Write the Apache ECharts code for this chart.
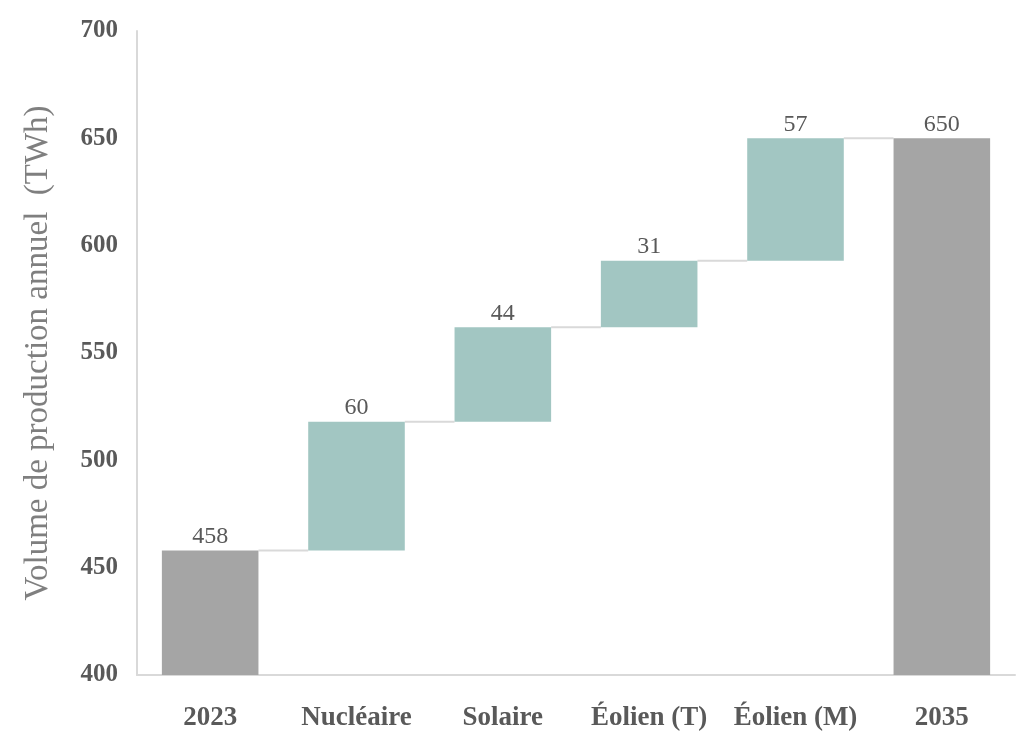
<!DOCTYPE html>
<html><head><meta charset="utf-8">
<script src="https://cdn.jsdelivr.net/npm/echarts@6/dist/echarts.min.js"></script>
<style>html,body{margin:0;padding:0;background:#fff}#c{width:1024px;height:744px}</style>
</head><body><div id="c"></div>
<script>
const categories = ['2023', 'Nucléaire', 'Solaire', 'Éolien (T)', 'Éolien (M)', '2035'];
const totals = [458, null, null, null, null, 650];
const increments = [null, 60, 44, 31, 57, null];
const yTicks = { min: 400, max: 700, interval: 50 };
const yName = 'Volume de production annuel  (TWh)';

// derived waterfall bases and levels
const base = [], visible = [], levels = [];
let run = 0;
categories.forEach((c, i) => {
  if (totals[i] != null) { base.push(0); visible.push({ value: totals[i], itemStyle: { color: '#a5a5a5' } }); run = totals[i]; }
  else { base.push(run); visible.push({ value: increments[i], itemStyle: { color: '#a2c6c2' } }); run += increments[i]; }
  levels.push(run);
});
const labelsText = categories.map((c, i) => totals[i] != null ? totals[i] : increments[i]);
const connectors = levels.slice(0, -1).map((v, i) => [i, v]);
const BW = 0.66;
const font = '"Liberation Serif", "DejaVu Serif", serif';

const chart = echarts.init(document.getElementById('c'));
chart.setOption({
  animation: false,
  grid: { left: 137, right: 9, top: 31, bottom: 69, containLabel: false },
  xAxis: {
    type: 'category', data: categories,
    axisLine: { lineStyle: { color: '#d9d9d9', width: 2 } },
    axisTick: { show: false },
    axisLabel: { interval: 0, hideOverlap: false, margin: 30, color: '#595959', fontFamily: font, fontWeight: 'bold', fontSize: 27 }
  },
  yAxis: {
    type: 'value', min: yTicks.min, max: yTicks.max, interval: yTicks.interval,
    name: yName, nameLocation: 'middle', nameGap: 82, nameRotate: 90,
    nameTextStyle: { color: '#7f7f7f', fontFamily: font, fontSize: 33 },
    axisLine: { show: true, lineStyle: { color: '#d9d9d9', width: 2 } },
    axisTick: { show: false },
    splitLine: { show: false },
    axisLabel: { margin: 19, color: '#595959', fontFamily: font, fontWeight: 'bold', fontSize: 25 }
  },
  series: [
    { type: 'bar', stack: 'w', data: base, barWidth: (BW * 100) + '%', itemStyle: { color: 'transparent' }, silent: true },
    { type: 'bar', stack: 'w', data: visible, barWidth: (BW * 100) + '%',
      label: { show: true, position: 'top', distance: 2, color: '#595959', fontFamily: font, fontSize: 24,
        formatter: p => labelsText[p.dataIndex] } },
    { type: 'custom', data: connectors, z: 1,
      renderItem: (params, api) => {
        const i = api.value(0), v = api.value(1);
        const p1 = api.coord([i, v]), p2 = api.coord([i + 1, v]);
        const half = api.size([1, 0])[0] * BW / 2;
        return { type: 'line', shape: { x1: p1[0] + half, y1: p1[1], x2: p2[0] - half, y2: p2[1] },
          style: { stroke: '#d9d9d9', lineWidth: 2 } };
      } }
  ]
});
</script></body></html>
